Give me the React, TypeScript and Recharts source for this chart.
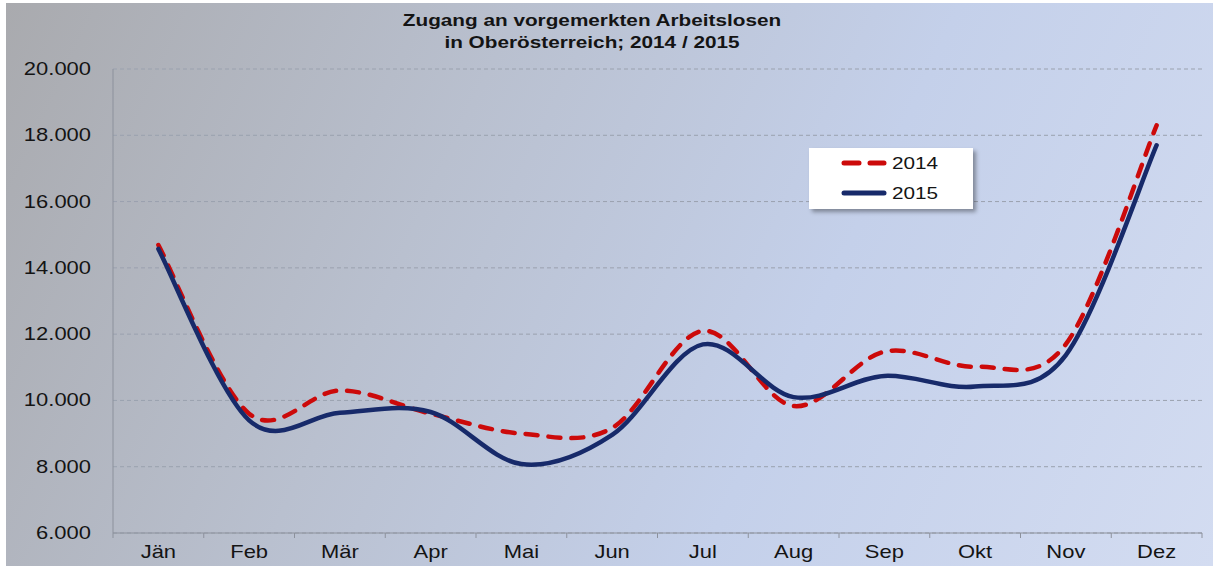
import { LineChart, Line, XAxis, YAxis, CartesianGrid } from "recharts";

const months = ["Jän", "Feb", "Mär", "Apr", "Mai", "Jun", "Jul", "Aug", "Sep", "Okt", "Nov", "Dez"];
const values2014 = [14690, 9600, 10300, 9600, 9000, 9170, 12100, 9830, 11470, 11020, 11700, 18300];
const values2015 = [14570, 9400, 9630, 9650, 8080, 8960, 11690, 10100, 10740, 10420, 11370, 17700];
const yTicks = [6000, 8000, 10000, 12000, 14000, 16000, 18000, 20000];

const data = months.map((m, i) => ({ month: m, y2014: values2014[i], y2015: values2015[i] }));

const W = 1207;
const H = 563;
const margin = { top: 66, right: 11, left: 0, bottom: 3 };
const Y_AXIS_W = 107;
const HALF_BAND = (W - margin.right - Y_AXIS_W) / months.length / 2;
const STRETCH = 1.22;
const FONT = "'Liberation Sans', Arial, sans-serif";

// excel-like smoothing (catmull-rom as cubic bezier)
function excelCurve(context: any) {
  let pts: number[][] = [];
  return {
    areaStart() {},
    areaEnd() {},
    lineStart() {
      pts = [];
    },
    point(x: number, y: number) {
      pts.push([+x, +y]);
    },
    lineEnd() {
      if (!pts.length) return;
      context.moveTo(pts[0][0], pts[0][1]);
      for (let i = 0; i < pts.length - 1; i++) {
        const p0 = pts[i - 1] || pts[i];
        const p1 = pts[i];
        const p2 = pts[i + 1];
        const p3 = pts[i + 2] || p2;
        const t = 1 / 6;
        context.bezierCurveTo(
          p1[0] + (p2[0] - p0[0]) * t,
          p1[1] + (p2[1] - p0[1]) * t,
          p2[0] - (p3[0] - p1[0]) * t,
          p2[1] - (p3[1] - p1[1]) * t,
          p2[0],
          p2[1]
        );
      }
    },
  };
}

const fmt = (n: number) => String(n).replace(/\B(?=(\d{3})+(?!\d))/g, ".");

function YTick(props: any) {
  const { x, y, payload } = props;
  return (
    <text
      transform={`translate(${x - 22},${y + 6}) scale(${STRETCH},1)`}
      textAnchor="end"
      fontFamily={FONT}
      fontSize={18}
      fill="#141414"
    >
      {fmt(payload.value)}
    </text>
  );
}

function XTick(props: any) {
  const { x, y, payload, index } = props;
  const last = index === months.length - 1;
  return (
    <g>
      <line x1={x - HALF_BAND} x2={x - HALF_BAND} y1={y} y2={y + 5} stroke="#8c919c" />
      {last && <line x1={x + HALF_BAND} x2={x + HALF_BAND} y1={y} y2={y + 5} stroke="#8c919c" />}
      <text
        transform={`translate(${x},${y + 25}) scale(${STRETCH},1)`}
        textAnchor="middle"
        fontFamily={FONT}
        fontSize={18}
        fill="#141414"
      >
        {payload.value}
      </text>
    </g>
  );
}

function LegendBox() {
  const rows = [
    { label: "2014", color: "#cc0a0a", dash: "15 11" },
    { label: "2015", color: "#172a6a", dash: undefined },
  ];
  return (
    <div
      style={{
        position: "absolute",
        left: 803,
        top: 145,
        width: 164,
        height: 61,
        background: "#ffffff",
        boxShadow: "3px 3px 4px rgba(0,0,0,0.35)",
      }}
    >
      <svg width={164} height={61} style={{ display: "block" }}>
        {rows.map((r, i) => (
          <g key={r.label}>
            <line
              x1={35}
              x2={75}
              y1={15 + i * 30}
              y2={15 + i * 30}
              stroke={r.color}
              strokeWidth={5}
              strokeLinecap="round"
              strokeDasharray={r.dash}
            />
            <text
              transform={`translate(83,${21 + i * 30}) scale(${STRETCH},1)`}
              fontFamily={FONT}
              fontSize={17}
              fill="#141414"
            >
              {r.label}
            </text>
          </g>
        ))}
      </svg>
    </div>
  );
}

export default function App() {
  return (
    <div
      style={{
        position: "absolute",
        left: 6,
        top: 3,
        width: W,
        height: H,
        background: "linear-gradient(115deg, #a9aaae 0%, #b9c0cf 35%, #c4d0ea 65%, #d3dcf1 100%)",
        overflow: "hidden",
      }}
    >
      <div
        style={{
          position: "absolute",
          left: 586,
          top: 7,
          transform: `translateX(-50%) scaleX(${STRETCH})`,
          whiteSpace: "nowrap",
          textAlign: "center",
          fontFamily: FONT,
          fontWeight: 700,
          fontSize: 17,
          lineHeight: "22px",
          color: "#141414",
        }}
      >
        Zugang an vorgemerkten Arbeitslosen
        <br />
        in Oberösterreich; 2014 / 2015
      </div>
      <LineChart width={W} height={H} data={data} margin={margin}>
        <CartesianGrid vertical={false} stroke="#9aa1ae" strokeDasharray="4 3" />
        <XAxis
          dataKey="month"
          scale="band"
          height={30}
          tickLine={false}
          tickSize={0}
          tickMargin={0}
          stroke="#8c919c"
          tick={<XTick />}
          interval={0}
        />
        <YAxis
          width={Y_AXIS_W}
          domain={[6000, 20000]}
          ticks={yTicks}
          tickLine={false}
          tickSize={0}
          tickMargin={0}
          stroke="#8c919c"
          tick={<YTick />}
          interval={0}
        />
        <Line
          dataKey="y2014"
          type={excelCurve as any}
          stroke="#cc0a0a"
          strokeWidth={4.5}
          strokeDasharray="12 11"
          strokeLinecap="round"
          dot={false}
          isAnimationActive={false}
        />
        <Line
          dataKey="y2015"
          type={excelCurve as any}
          stroke="#172a6a"
          strokeWidth={4.5}
          strokeLinecap="round"
          dot={false}
          isAnimationActive={false}
        />
      </LineChart>
      <LegendBox />
    </div>
  );
}
